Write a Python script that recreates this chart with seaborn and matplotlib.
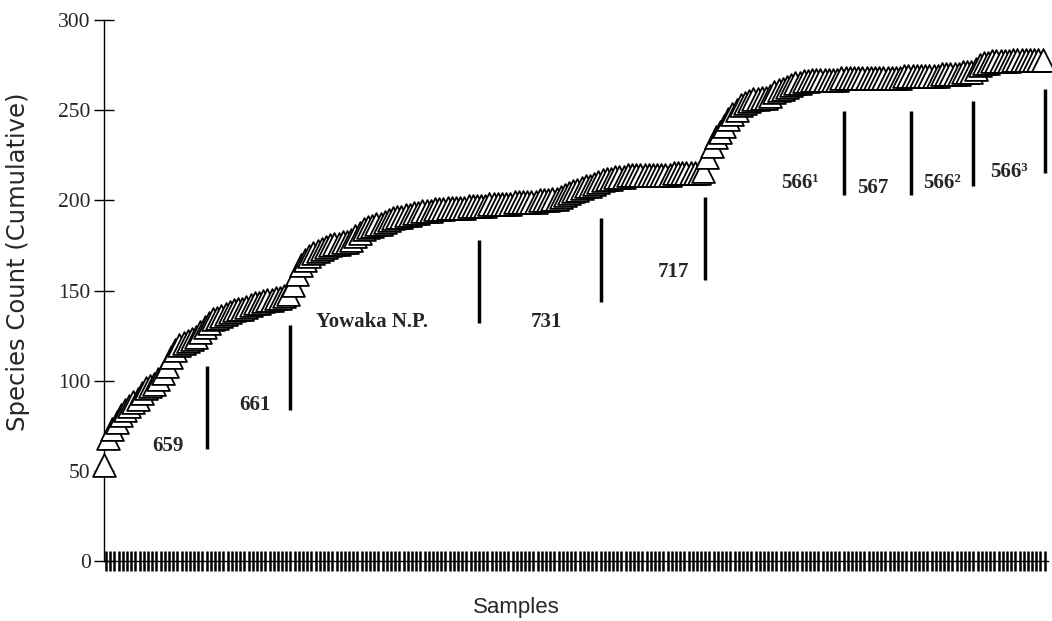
import numpy as np
import pandas as pd
import matplotlib
matplotlib.use('Agg')
import matplotlib.pyplot as plt
import seaborn as sns

site_names = ['659', '661', 'Yowaka N.P.', '731', '717', '566¹', '567', '566²', '566³']
count_659 = [53, 68, 73, 77, 81, 84, 86, 88, 90, 93, 96, 97, 98, 101, 104, 108, 113, 117, 120, 121,
             122, 123, 124, 127, 130]
count_661 = [132, 134, 135, 136, 137, 138, 139, 140, 140, 141, 142, 143, 143, 144, 145, 145, 146, 146, 147, 148]
count_yowaka = [153, 159, 164, 167, 169, 171, 172, 173, 174, 175, 176, 176, 177, 177, 178, 180, 182, 184, 185, 186,
                187, 187, 188, 189, 190, 191, 191, 192, 192, 193, 193, 194, 194, 194, 195, 195, 195, 196, 196, 196,
                196, 196, 197, 197, 197]
count_731 = [197, 197, 198, 198, 198, 198, 198, 198, 199, 199, 199, 199, 199, 199, 200, 200, 200, 201, 201, 202,
             203, 204, 205, 206, 207, 208, 208, 209, 210]
count_717 = [211, 212, 212, 213, 213, 213, 214, 214, 214, 214, 214, 214, 214, 214, 214, 214, 214, 215, 215, 215,
             215, 215, 215, 215, 216]
count_566a = [224, 230, 235, 238, 241, 245, 248, 250, 253, 254, 255, 256, 256, 257, 257, 258, 260, 261, 262, 263,
              264, 265, 265, 266, 266, 267, 267, 267, 267, 267, 267, 267, 268]
count_567 = [268, 268, 268, 268, 268, 268, 268, 268, 268, 268, 268, 268, 268, 268, 269, 269]
count_566b = [269, 269, 269, 269, 269, 269, 269, 270, 270, 270, 270, 270, 271, 271, 271]
count_566c = [273, 275, 276, 276, 277, 277, 277, 277, 277, 278, 278, 278, 278, 278, 278, 278, 278]

groups = [count_659, count_661, count_yowaka, count_731, count_717, count_566a, count_567, count_566b, count_566c]

# annotation placement (sample index, species count) and divider line extents
label_x = [15.3, 36, 64, 105.7, 136, 166, 183.5, 200, 216]
label_y = [64, 86.5, 132.5, 132.5, 160, 209.6, 207, 209.6, 215.7]
line_bottom = [62, 84, 132, 143.6, 156, 203, 203, 208, 215]
line_top = [108, 131, 178, 190, 202, 249.6, 249.6, 255, 262]

species = np.concatenate(groups)
df = pd.DataFrame({'sample': np.arange(len(species)), 'species': species})
sizes = [len(g) for g in groups]
boundaries = np.cumsum(sizes) - 0.5

sns.set_style('white')
plt.rcParams['font.family'] = ['Liberation Serif', 'DejaVu Serif']

fig = plt.figure(figsize=(10.52, 6.21), dpi=100)
ax = fig.add_axes([104 / 1052, 60 / 621, 944 / 1052, 541 / 621])

sns.scatterplot(data=df, x='sample', y='species', marker='^', s=270, color='white',
                edgecolor='black', linewidth=1.3, legend=False, ax=ax, zorder=3, clip_on=False)

ax.set_xlim(0, 225.3)
ax.set_ylim(0, 300)
ax.set_xlabel('')
ax.set_ylabel('')

ax.set_xticks(df['sample'] + 0.5)
ax.tick_params(axis='x', bottom=True, direction='inout', length=14, width=1.8, color='black', labelbottom=False)
ax.set_yticks(range(0, 301, 50))
ax.tick_params(axis='y', left=True, direction='inout', length=15, width=1, color='black', labelsize=15.5, pad=2)

for side in ['top', 'right']:
    ax.spines[side].set_visible(False)
for side in ['left', 'bottom']:
    ax.spines[side].set_color('black')
    ax.spines[side].set_linewidth(1)

ax.vlines(boundaries, line_bottom, line_top, color='black', linewidth=2.5, clip_on=False)
for name, x, y in zip(site_names, label_x, label_y):
    ax.text(x, y, name, ha='center', va='center', fontsize=15, fontweight='bold')

fig.text(18 / 1052, 1 - 262 / 621, 'Species Count (Cumulative)', rotation=90, ha='center', va='center',
         fontsize=17.5, family='DejaVu Sans')
fig.text(516 / 1052, 1 - 607 / 621, 'Samples', ha='center', va='center', fontsize=16, family='Liberation Sans')

fig.savefig('out.png', dpi=100)
